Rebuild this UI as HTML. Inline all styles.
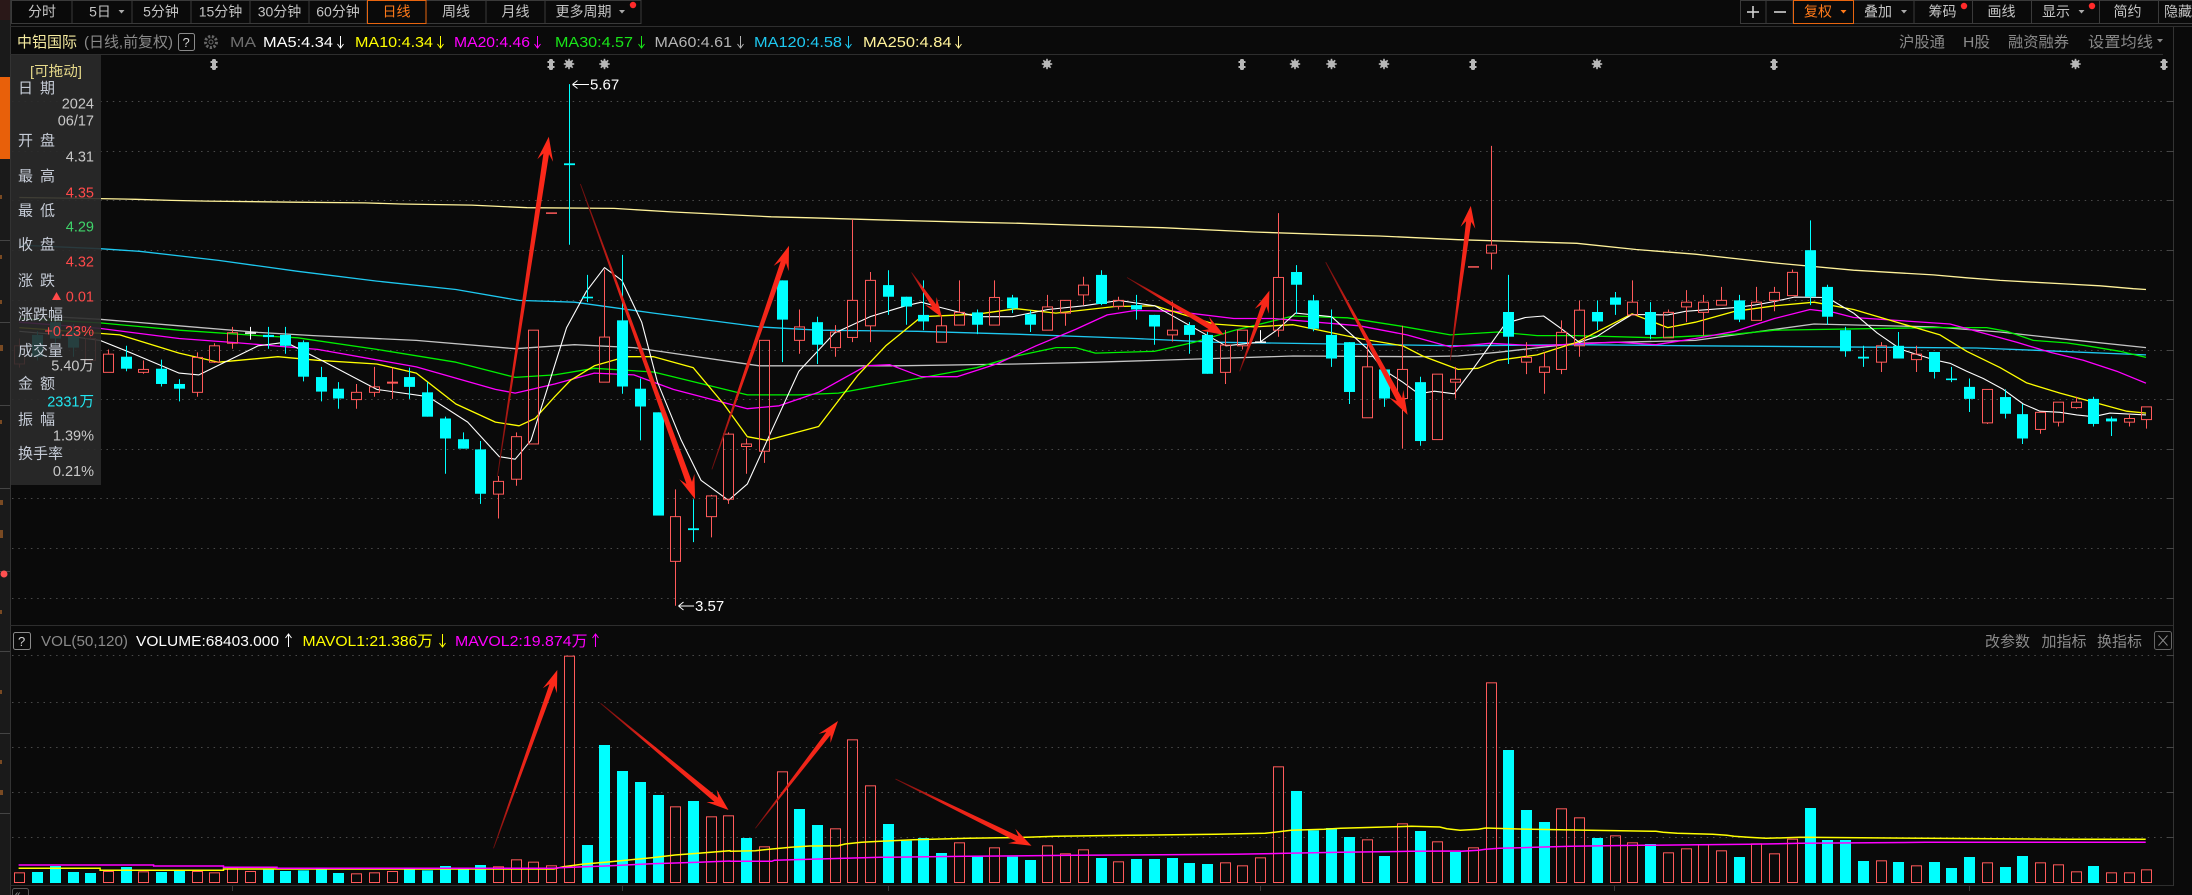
<!DOCTYPE html>
<html><head><meta charset="utf-8">
<style>
html,body{margin:0;padding:0;background:#0a0a0a;width:2192px;height:895px;overflow:hidden}
svg{display:block}
text{font-family:"Liberation Sans","Noto Sans CJK SC",sans-serif}
</style></head><body>
<svg id="s" width="2192" height="895" viewBox="0 0 2192 895" xmlns="http://www.w3.org/2000/svg">
<defs id="defs"></defs>
<rect x="0" y="0" width="2192" height="895" fill="#0a0a0a"/>
<!-- left strip -->
<rect x="0" y="0" width="10" height="895" fill="#1a1a1a"/>
<rect x="0" y="0" width="10" height="20" fill="#2a1818"/>
<rect x="0" y="77" width="10" height="82" fill="#e8600a"/>
<g stroke="#444" stroke-width="1">
<line x1="0" x2="10" y1="240.5" y2="240.5"/><line x1="0" x2="10" y1="322.5" y2="322.5"/>
<line x1="0" x2="10" y1="405.5" y2="405.5"/><line x1="0" x2="10" y1="488.5" y2="488.5"/>
<line x1="0" x2="10" y1="571.5" y2="571.5"/><line x1="0" x2="10" y1="651.5" y2="651.5"/>
<line x1="0" x2="10" y1="733.5" y2="733.5"/><line x1="0" x2="10" y1="813.5" y2="813.5"/>
</g>
<g fill="#7a4a22">
<rect x="0" y="195" width="2" height="4"/><rect x="0" y="255" width="2" height="4"/><rect x="0" y="300" width="2" height="4"/>
<rect x="0" y="345" width="3" height="6"/><rect x="0" y="420" width="2" height="4"/><rect x="0" y="500" width="3" height="5"/>
<rect x="0" y="530" width="3" height="8"/><rect x="0" y="610" width="2" height="4"/><rect x="0" y="690" width="2" height="4"/>
<rect x="0" y="760" width="2" height="4"/><rect x="0" y="790" width="3" height="5"/>
</g>
<circle cx="4" cy="574" r="3.5" fill="#ff5050"/>
<line x1="10.5" x2="10.5" y1="0" y2="895" stroke="#333"/>

<!-- toolbar left -->
<g stroke="#3a3a3a" fill="none">
<rect x="11.5" y="0.5" width="60.5" height="23"/>
<rect x="72" y="0.5" width="60" height="23"/>
<rect x="132" y="0.5" width="59" height="23"/>
<rect x="191" y="0.5" width="59" height="23"/>
<rect x="250" y="0.5" width="59" height="23"/>
<rect x="309" y="0.5" width="58" height="23"/>
<rect x="426" y="0.5" width="60" height="23"/>
<rect x="486" y="0.5" width="59" height="23"/>
<rect x="545" y="0.5" width="96" height="23"/>
</g>
<rect x="367.5" y="0.5" width="58.5" height="23" fill="none" stroke="#e8650f"/>
<g font-size="14" fill="#c4c4c4" text-anchor="middle">
<text x="42" y="16.5">分时</text>
<text x="100" y="16.5">5日</text>
<text x="161" y="16.5">5分钟</text>
<text x="220.5" y="16.5">15分钟</text>
<text x="279.5" y="16.5">30分钟</text>
<text x="338" y="16.5">60分钟</text>
<text x="396.5" y="16.5" fill="#ff7a1a">日线</text>
<text x="456" y="16.5">周线</text>
<text x="515.5" y="16.5">月线</text>
<text x="583.5" y="16.5">更多周期</text>
</g>
<polygon points="118.5,10 124.5,10 121.5,13.5" fill="#aaa"/>
<polygon points="619,10 625,10 622,13.5" fill="#aaa"/>
<circle cx="633" cy="5" r="3.2" fill="#ff2a2a"/>

<!-- toolbar right -->
<g stroke="#3a3a3a" fill="none">
<rect x="1740.5" y="0.5" width="25.5" height="23"/>
<rect x="1766" y="0.5" width="27" height="23"/>
<rect x="1853.5" y="0.5" width="60.5" height="23"/>
<rect x="1914" y="0.5" width="58.5" height="23"/>
<rect x="1972.5" y="0.5" width="59" height="23"/>
<rect x="2031.5" y="0.5" width="68" height="23"/>
<rect x="2099.5" y="0.5" width="59" height="23"/>
<rect x="2158.5" y="0.5" width="40" height="23"/>
</g>
<rect x="1793.5" y="0.5" width="60" height="23" fill="none" stroke="#e8650f"/>
<g stroke="#d0d0d0" stroke-width="1.6">
<line x1="1747" x2="1759" y1="12" y2="12"/><line x1="1753" x2="1753" y1="6" y2="18"/>
<line x1="1774" x2="1786" y1="12" y2="12"/>
</g>
<g font-size="14" fill="#c4c4c4">
<text x="1804" y="16.5" fill="#ff7a1a">复权</text>
<text x="1864" y="16.5">叠加</text>
<text x="1928.5" y="16.5">筹码</text>
<text x="1987.5" y="16.5">画线</text>
<text x="2042" y="16.5">显示</text>
<text x="2113.5" y="16.5">简约</text>
<text x="2164" y="16.5">隐藏</text>
</g>
<polygon points="1840.5,10 1846.5,10 1843.5,13.5" fill="#ff7a1a"/>
<polygon points="1901,10 1907,10 1904,13.5" fill="#aaa"/>
<polygon points="2078.5,10 2084.5,10 2081.5,13.5" fill="#aaa"/>
<circle cx="1964" cy="6" r="3.2" fill="#ff2a2a"/>
<circle cx="2092" cy="6" r="3.2" fill="#ff2a2a"/>

<!-- frame lines -->
<line x1="10" x2="2192" y1="26.5" y2="26.5" stroke="#2e2e2e"/>
<line x1="10" x2="2163" y1="54.5" y2="54.5" stroke="#2e2e2e"/>
<line x1="2173.5" x2="2173.5" y1="27" y2="886" stroke="#333"/>
<line x1="10" x2="2173" y1="625.5" y2="625.5" stroke="#2e2e2e"/>
<line x1="10" x2="2173" y1="885.5" y2="885.5" stroke="#2e2e2e"/>
<g stroke="#3a3a3a">
<line x1="232.5" x2="232.5" y1="886" y2="891"/><line x1="622.5" x2="622.5" y1="886" y2="891"/>
<line x1="888.5" x2="888.5" y1="886" y2="891"/><line x1="1260.5" x2="1260.5" y1="886" y2="891"/>
<line x1="1614.5" x2="1614.5" y1="886" y2="891"/><line x1="1969.5" x2="1969.5" y1="886" y2="891"/>
</g>
<rect x="12.5" y="888.5" width="16" height="10" rx="2" fill="none" stroke="#555"/>
<text x="15" y="897" font-size="10" fill="#999">«</text>

<g id="grid"></g>
<g id="ma"></g>
<g id="candles"></g>
<g id="vol"></g>
<g id="arrows"></g>
<g id="marks"></g>

<!-- price extremes -->
<path d="M572.5,84.5 H589 M572.5,84.5 l5,-4 M572.5,84.5 l5,4" stroke="#fff" stroke-width="1" fill="none"/>
<text x="590" y="89.5" font-size="15" fill="#fff">5.67</text>
<path d="M678.5,606 H694 M678.5,606 l5,-4 M678.5,606 l5,4" stroke="#fff" stroke-width="1" fill="none"/>
<text x="695" y="611" font-size="15" fill="#fff">3.57</text>

<!-- info panel -->
<rect x="11" y="55" width="90" height="430" fill="#2a2a2a" fill-opacity="0.9"/>
<g font-size="15" fill="#c5cbd6">
<text x="30" y="76" font-size="14" fill="#e6d98a" textLength="52" lengthAdjust="spacingAndGlyphs">[可拖动]</text>
<text x="18" y="93">日</text><text x="40" y="93">期</text>
<text x="18" y="145.3">开</text><text x="40" y="145.3">盘</text>
<text x="18" y="181">最</text><text x="40" y="181">高</text>
<text x="18" y="215.3">最</text><text x="40" y="215.3">低</text>
<text x="18" y="249.6">收</text><text x="40" y="249.6">盘</text>
<text x="18" y="285.3">涨</text><text x="40" y="285.3">跌</text>
<text x="18" y="319.6">涨跌幅</text>
<text x="18" y="355.3">成交量</text>
<text x="18" y="388.6">金</text><text x="40" y="388.6">额</text>
<text x="18" y="424.6">振</text><text x="40" y="424.6">幅</text>
<text x="18" y="458.6">换手率</text>
</g>
<g font-size="14.5" fill="#c8c8c8" text-anchor="end">
<text x="94" y="108.3">2024</text>
<text x="94" y="125.7">06/17</text>
<text x="94" y="161.7">4.31</text>
<text x="94" y="197.3" fill="#ff4a4a">4.35</text>
<text x="94" y="231.7" fill="#3fd46a">4.29</text>
<text x="94" y="266.7" fill="#ff4a4a">4.32</text>
<text x="94" y="301.7" fill="#ff4a4a">0.01</text>
<text x="94" y="336" fill="#ff4a4a">+0.23%</text>
<text x="94" y="370.3">5.40万</text>
<text x="94" y="406.3" fill="#22e6f0">2331万</text>
<text x="94" y="440.7">1.39%</text>
<text x="94" y="476">0.21%</text>
</g>
<polygon points="52,300 61,300 56.5,292" fill="#ff4a4a"/>

<!-- row 2 header -->
<g font-size="15">
<text x="17" y="47" fill="#f5eba0" textLength="60" lengthAdjust="spacingAndGlyphs">中铝国际</text>
<text x="84" y="47" fill="#8a8a8a" textLength="89" lengthAdjust="spacingAndGlyphs">(日线,前复权)</text>
<text x="230" y="47" fill="#6e6e6e" textLength="26" lengthAdjust="spacingAndGlyphs">MA</text>
<text x="263" y="47" fill="#ffffff" textLength="70" lengthAdjust="spacingAndGlyphs">MA5:4.34</text>
<text x="355" y="47" fill="#ffff00" textLength="78" lengthAdjust="spacingAndGlyphs">MA10:4.34</text>
<text x="454" y="47" fill="#ff00ff" textLength="76" lengthAdjust="spacingAndGlyphs">MA20:4.46</text>
<text x="555" y="47" fill="#19e619" textLength="78" lengthAdjust="spacingAndGlyphs">MA30:4.57</text>
<text x="654.5" y="47" fill="#b4b4b4" textLength="77.5" lengthAdjust="spacingAndGlyphs">MA60:4.61</text>
<text x="754" y="47" fill="#1ec8f0" textLength="88" lengthAdjust="spacingAndGlyphs">MA120:4.58</text>
<text x="863" y="47" fill="#fff29a" textLength="88.5" lengthAdjust="spacingAndGlyphs">MA250:4.84</text>
</g>
<rect x="178.5" y="33.5" width="16" height="17" rx="2" fill="none" stroke="#8a8a8a"/>
<text x="182.5" y="47" font-size="13" fill="#d0d0d0">?</text>
<circle cx="211" cy="42" r="5.5" fill="none" stroke="#666" stroke-width="3" stroke-dasharray="2.2 1.6"/>
<circle cx="211" cy="42" r="2" fill="#0a0a0a" stroke="#666" stroke-width="1"/>
<g fill="none" stroke-width="1">
<path d="M340.5,36 V48 M337.5,44 L340.5,48 L343.5,44" stroke="#ffffff"/>
<path d="M440.5,36 V48 M437.5,44 L440.5,48 L443.5,44" stroke="#ffff00"/>
<path d="M537.5,36 V48 M534.5,44 L537.5,48 L540.5,44" stroke="#ff00ff"/>
<path d="M641.5,36 V48 M638.5,44 L641.5,48 L644.5,44" stroke="#19e619"/>
<path d="M740.5,36 V48 M737.5,44 L740.5,48 L743.5,44" stroke="#b4b4b4"/>
<path d="M848.5,36 V48 M845.5,44 L848.5,48 L851.5,44" stroke="#1ec8f0"/>
<path d="M958.5,36 V48 M955.5,44 L958.5,48 L961.5,44" stroke="#fff29a"/>
</g>
<g font-size="15" fill="#8a8a8a">
<text x="1899" y="47" textLength="46" lengthAdjust="spacingAndGlyphs">沪股通</text>
<text x="1963" y="47" textLength="27" lengthAdjust="spacingAndGlyphs">H股</text>
<text x="2008" y="47" textLength="61" lengthAdjust="spacingAndGlyphs">融资融券</text>
<text x="2088" y="47" textLength="65" lengthAdjust="spacingAndGlyphs">设置均线</text>
</g>
<polygon points="2157,39 2163,39 2160,42.5" fill="#8a8a8a"/>

<!-- volume header -->
<rect x="13.5" y="632.5" width="17" height="17" rx="2" fill="none" stroke="#8a8a8a"/>
<text x="18" y="646" font-size="13" fill="#d0d0d0">?</text>
<g font-size="15">
<text x="41" y="646" fill="#8a8a8a" textLength="87" lengthAdjust="spacingAndGlyphs">VOL(50,120)</text>
<text x="136" y="646" fill="#ffffff" textLength="143" lengthAdjust="spacingAndGlyphs">VOLUME:68403.000</text>
<text x="302.5" y="646" fill="#ffff00" textLength="130.5" lengthAdjust="spacingAndGlyphs">MAVOL1:21.386万</text>
<text x="455" y="646" fill="#ff00ff" textLength="132.5" lengthAdjust="spacingAndGlyphs">MAVOL2:19.874万</text>
</g>
<g fill="none" stroke-width="1">
<path d="M288.5,634 V647 M285.5,638 L288.5,634 L291.5,638" stroke="#ffffff"/>
<path d="M442.5,634 V647 M439.5,643 L442.5,647 L445.5,643" stroke="#ffff00"/>
<path d="M595.5,634 V647 M592.5,638 L595.5,634 L598.5,638" stroke="#ff00ff"/>
</g>
<g font-size="15" fill="#8a8a8a">
<text x="1985" y="646.5" textLength="45" lengthAdjust="spacingAndGlyphs">改参数</text>
<text x="2041.5" y="646.5" textLength="45" lengthAdjust="spacingAndGlyphs">加指标</text>
<text x="2097" y="646.5" textLength="45" lengthAdjust="spacingAndGlyphs">换指标</text>
</g>
<rect x="2154.5" y="631.5" width="17" height="18" rx="2" fill="none" stroke="#666"/>
<path d="M2158.5,635.5 L2167.5,645.5 M2167.5,635.5 L2158.5,645.5" stroke="#888" stroke-width="1"/>
</svg>
<script>
(function(){
const NS='http://www.w3.org/2000/svg';
function mk(tag,a,p){const e=document.createElementNS(NS,tag);for(const k in a)e.setAttribute(k,a[k]);p.appendChild(e);return e;}
const Y=z=>55+z/2.751;
const CX=i=>Math.round(19.4+17.725*i);
const RED='#ff5a5a',CY='#00ffff';

// grid
const gG=document.getElementById('grid');
[101.5,151.5,200.5,250.5,300.5,350.5,399.5,449.5,498.5,548.5,598.5,655.5,702.5,747.5,792.5,837.5].forEach(y=>{
 mk('line',{x1:12,x2:2168,y1:y,y2:y,stroke:'#4a4a4a','stroke-width':1,'stroke-dasharray':'1.5 4.8'},gG);
 mk('line',{x1:2168,x2:2174,y1:y,y2:y,stroke:'#444','stroke-width':1},gG);
});

// MA lines
const SEG={z4:[100,2.529,-1e9,720],z5:[700,2.529,720,1320],z6:[1300,2.529,1320,1920],z7:[1900,3,1920,1e9]};
function conv(obj,S,fy){let pts=[];for(const k in obj){const [x0,s,a,b]=S[k];obj[k].forEach(([zx,zy])=>{const x=x0+zx/s;if(x>a&&x<=b)pts.push([x,fy(zy)]);});}
 pts=pts.map((p,i)=>[p[0],p[1],i]);pts.sort((p,q)=>p[0]-q[0]||p[2]-q[2]);return pts.map(p=>p[0].toFixed(1)+','+p[1].toFixed(1)).join(' ');}
const MA=[
['#fff29a',1.3,{z4:[[-204,392],[0,395],[90,397],[180,400],[270,402],[490,405],[670,407],[760,410],[940,413],[1080,420],[1300,422],[1450,432],[1568,438]],
 z5:[[180,445],[280,448],[500,455],[680,460],[810,463],[950,468],[1170,475],[1400,487],[1568,491]],
 z6:[[100,495],[200,498],[400,508],[700,518],[850,535],[1000,548],[1200,572],[1400,592],[1568,604]],
 z7:[[100,605],[200,613],[300,620],[400,625],[500,630],[600,635],[700,643],[738,645]]}],
['#1ec8f0',1.3,{z4:[[-204,523],[0,533],[100,540],[300,565],[500,595],[700,622],[900,645],[1060,675],[1200,680],[1400,710],[1568,735]],
 z5:[[150,748],[300,757],[550,760],[800,768],[1100,780],[1300,790],[1568,797]],
 z6:[[400,800],[700,797],[1000,800],[1568,800]],
 z7:[[230,806],[400,812],[550,818],[738,825]]}],
['#c4c4c4',1.3,{z4:[[-204,715],[0,727],[200,745],[400,763],[540,772],[800,785],[1050,808],[1200,797],[1350,805],[1568,845]],
 z5:[[150,855],[500,855],[800,850],[1000,845],[1300,835],[1500,828],[1568,827]],
 z6:[[300,830],[400,828],[500,818],[700,793],[1000,785],[1200,755],[1300,740],[1568,742]],
 z7:[[100,748],[300,762],[500,782],[738,805]]}],
['#00f000',1.3,{z4:[[-204,725],[0,737],[200,757],[400,772],[500,778],[700,810],[900,845],[1050,887],[1150,880],[1250,862],[1400,872],[1568,925]],
 z5:[[120,935],[250,935],[350,930],[550,890],[700,860],[800,828],[900,805],[950,805],[1000,820],[1150,815],[1250,790],[1350,758],[1500,718],[1568,718]],
 z6:[[120,723],[250,745],[380,770],[500,762],[600,772],[700,772],[900,778],[1100,768],[1200,757],[1568,752]],
 z7:[[100,750],[260,750],[320,760],[400,785],[500,792],[560,800],[660,815],[738,832]]}],
['#ff00ff',1.3,{z4:[[-204,735],[0,752],[200,780],[350,792],[550,810],[800,858],[1000,920],[1050,930],[1150,905],[1250,875],[1350,880],[1450,920],[1568,962]],
 z5:[[120,973],[200,965],[300,928],[420,855],[480,852],[560,885],[650,885],[750,850],[850,800],[950,755],[1030,715],[1100,703],[1200,705],[1350,725],[1450,725],[1568,720]],
 z6:[[150,745],[270,770],[380,803],[480,793],[600,800],[800,790],[900,797],[1000,780],[1100,760],[1200,725],[1290,700],[1350,708],[1400,722],[1568,722]],
 z7:[[50,724],[150,740],[250,765],[350,790],[450,818],[550,840],[650,870],[738,903]]}],
['#ffff00',1.3,{z4:[[-204,750],[0,766],[50,770],[200,820],[300,845],[450,830],[550,840],[700,850],[800,875],[900,960],[1000,1010],[1060,1020],[1100,1000],[1150,940],[1190,895],[1250,855],[1330,830],[1400,830],[1500,860],[1568,930]],
 z5:[[60,960],[120,1050],[170,1060],[300,1022],[400,880],[470,800],[560,720],[700,713],[800,698],[900,710],[1050,692],[1150,690],[1300,740],[1400,748],[1500,742],[1568,745]],
 z6:[[150,780],[260,800],[310,828],[400,865],[450,862],[500,840],[600,825],[700,790],[840,712],[930,750],[1000,735],[1100,705],[1200,690],[1300,680],[1400,700],[1568,740]],
 z7:[[60,745],[120,770],[200,815],[300,860],[380,902],[480,930],[580,955],[680,980],[738,985]]}],
['#ffffff',1.1,{z4:[[-204,760],[-100,770],[0,785],[80,820],[200,875],[250,880],[400,800],[470,790],[560,840],[700,920],[830,940],[930,1010],[1010,1105],[1050,1112],[1090,1060],[1180,750],[1230,650],[1276,585],[1320,620],[1370,735],[1410,900],[1470,1060],[1520,1170],[1568,1215]],
 z5:[[72,1225],[120,1180],[170,1060],[250,870],[340,765],[430,720],[520,690],[560,680],[610,695],[700,720],[790,720],[880,700],[970,690],[1060,675],[1150,690],[1240,745],[1330,800],[1416,790],[1461,755],[1506,710],[1568,705]],
 z6:[[80,720],[170,808],[210,865],[260,900],[300,932],[340,925],[390,932],[440,860],[520,738],[570,722],[616,718],[660,752],[706,790],[750,775],[800,740],[840,714],[930,715],[975,705],[1100,695],[1150,688],[1200,678],[1250,666],[1333,667],[1400,710],[1460,765],[1520,810],[1568,825]],
 z7:[[50,825],[100,838],[150,848],[200,870],[250,890],[310,920],[370,960],[420,980],[480,983],[530,990],[580,995],[630,985],[738,990]]}]
];
const gM=document.getElementById('ma');
MA.forEach(([c,w,d])=>mk('polyline',{points:conv(d,SEG,Y),fill:'none',stroke:c,'stroke-width':w,'stroke-linejoin':'round'},gM));

// candles
const C=[
['r',800,850,780,860],['c',770,830,760,840],['c',735,780,725,800],['c',760,805,740,830],['r',780,840,770,850],
['r',823,873,810,873],['c',830,863,800,870],['r',865,873,840,877],['c',863,905,838,912],['c',905,918,892,953],
['r',832,928,818,940],['r',800,845,793,847],['r',764,793,748,808],['w',765,765,748,783],['c',770,776,748,808],
['c',770,800,748,822],['c',790,885,785,898],['c',886,926,858,953],['c',918,945,900,973],['r',928,948,905,973],
['r',913,928,858,940],['r',900,902,860,946],['c',886,913,860,946],['c',928,995,900,995],['c',1000,1055,995,1152],
['c',1057,1083,1038,1083],['c',1085,1207,1062,1235],['r',1173,1208,1158,1275],['r',1050,1167,1038,1185],['r',757,1070,757,1070],
['rd',435,435,435,435],['c',298,303,80,522],['c',665,667,605,680],['r',776,900,590,900],['c',730,912,550,932],
['c',918,967,890,1060],['c',983,1267,983,1267],['r',1270,1393,1195,1515],['c',1302,1307,1222,1340],['r',1213,1270,1210,1327],
['r',1043,1222,1038,1235],['r',1070,1077,1055,1152],['r',785,1090,785,1122],['c',620,728,620,845],['r',748,785,700,822],
['c',735,797,720,850],['r',762,805,743,830],['r',675,777,452,790],['r',620,745,597,790],['c',633,665,592,715],
['c',665,692,665,742],['c',715,733,620,757],['r',745,790,718,790],['r',708,743,620,743],['c',708,742,700,768],
['r',667,743,620,743],['c',667,697,660,710],['c',713,742,703,762],['r',693,757,660,757],['r',675,710,675,745],
['r',633,660,610,688],['c',605,685,592,688],['r',675,692,665,700],['c',688,700,660,728],['c',715,747,715,797],
['r',757,770,678,788],['c',743,770,735,822],['c',770,877,757,877],['r',798,873,757,905],['r',757,800,757,810],
['w',790,790,757,790],['r',612,757,435,775],['c',597,632,578,713],['c',675,753,660,760],['c',770,835,700,858],
['c',790,927,790,960],['r',858,998,795,998],['c',865,945,865,968],['r',865,945,745,1083],['c',900,1062,885,1075],
['r',878,1058,878,1058],['r',892,900,858,945],['rd',583,583,583,583],['r',523,545,250,590],['c',707,775,605,850],
['r',832,845,790,878],['r',858,873,818,932],['r',763,865,730,878],['r',702,800,675,830],['c',707,733,675,757],
['c',667,687,652,715],['r',680,715,620,715],['c',707,770,680,782],['r',708,778,700,778],['r',680,693,647,735],
['r',680,708,660,772],['r',675,688,638,688],['c',675,728,660,735],['r',680,730,638,730],['r',653,675,638,705],
['r',598,662,590,662],['c',537,665,455,688],['c',638,720,632,742],['c',757,815,748,830],['c',830,835,800,858],
['r',800,845,790,872],['c',800,835,762,835],['r',823,838,800,872],['c',817,872,817,890],['c',890,893,858,900],
['c',913,946,890,982],['r',920,1012,920,1015],['c',941,987,920,1000],['c',988,1055,960,1070],['r',983,1030,983,1042],
['r',955,1010,955,1022],['r',955,970,940,973],['c',946,1015,940,1022],['c',1000,1008,995,1048],['r',1000,1010,988,1022],
['r',968,1003,968,1028]
];
const gC=document.getElementById('candles');
C.forEach((c,i)=>{
 const [t,a,b,wt,wb]=c,x=CX(i),yt=Y(a),yb=Y(b),ht=Y(wt),hb=Y(wb);
 if(t==='c'){
  if(hb-ht>0.5) mk('line',{x1:x+.5,x2:x+.5,y1:ht,y2:hb,stroke:CY,'stroke-width':1},gC);
  mk('rect',{x:x-5,y:yt,width:11,height:Math.max(1.6,yb-yt),fill:CY},gC);
 } else if(t==='r'){
  if(yt-ht>0.5) mk('line',{x1:x+.5,x2:x+.5,y1:ht,y2:yt,stroke:RED,'stroke-width':1},gC);
  if(hb-yb>0.5) mk('line',{x1:x+.5,x2:x+.5,y1:yb,y2:hb,stroke:RED,'stroke-width':1},gC);
  mk('rect',{x:x-4.5,y:yt,width:10,height:Math.max(1,yb-yt),fill:'none',stroke:RED,'stroke-width':1},gC);
 } else if(t==='w'){
  mk('line',{x1:x+.5,x2:x+.5,y1:ht,y2:hb,stroke:'#fff','stroke-width':1},gC);
  mk('line',{x1:x-5,x2:x+6,y1:yt,y2:yt,stroke:'#fff','stroke-width':1.5},gC);
 } else {
  mk('line',{x1:x-5,x2:x+6,y1:yt,y2:yt,stroke:RED,'stroke-width':1.5},gC);
 }
});

// volume
const V='r772 c771 c753 c771 c774 r768 c756 r769 c771 c768 r768 r772 r760 r768 c762 c768 c766 c761 c774 r775 r772 r768 c761 c766 c753 c761 c750 r754 r733 r740 r751 r122 c690 c390 c468 c501 c540 r574 c558 r604 r601 c669 r694 r469 c582 c630 r640 r373 r511 c627 c677 c669 c714 r682 c725 r697 c725 c735 r691 r715 r703 c729 r739 c732 c732 c729 c744 c747 r742 r751 r727 r454 c528 c646 c639 c666 r673 c723 r625 c648 r679 c711 r697 r202 c405 c585 c621 r580 r607 c669 r661 r682 c687 r712 r700 r688 r706 c726 r685 r715 r671 c579 c675 c675 c738 r736 c741 r751 c741 c759 c726 r742 c756 c723 r742 r748 r769 c753 r772 r772 r763'.split(' ');
const gV=document.getElementById('vol');
const BOT=883;
V.forEach((v,i)=>{const col=v[0],top=615+parseFloat(v.slice(1))/3,x=CX(i);
 if(col==='c') mk('rect',{x:x-5,y:top,width:11,height:BOT-top,fill:CY},gV);
 else mk('rect',{x:x-4.5,y:top+.5,width:10,height:BOT-top-1,fill:'none',stroke:RED,'stroke-width':1},gV);
});
const SV={z8:[0,2.148,-1e9,730],z9:[720,2.119,730,1460],z10:[1450,2.113,1460,1e9]};
const YV=z=>615+z/3;
const MV=[
['#ffff00',{z8:[[40,760],[215,760],[215,766],[480,766],[480,762],[1190,762],[1210,755],[1250,748],[1300,742],[1350,735],[1400,728],[1450,720],[1500,715],[1568,707]],
 z9:[[22,709],[75,707],[110,702],[150,697],[190,693],[250,692],[265,687],[300,682],[340,679],[410,674],[525,670],[650,667],[712,664],[862,661],[1050,658],[1155,655],[1175,652],[1210,646],[1280,643],[1315,640],[1390,637],[1465,634],[1525,636],[1540,641],[1568,646]],
 z10:[[22,646],[60,643],[75,639],[145,642],[295,646],[435,649],[450,652],[480,655],[555,658],[585,661],[600,664],[630,667],[668,670],[740,667],[1005,670],[1305,673],[1470,673]]}],
['#ff00ff',{z8:[[40,750],[330,750],[330,753],[480,753],[480,757],[595,757],[595,760],[1190,760],[1200,758],[1300,753],[1400,746],[1500,742],[1568,738]],
 z9:[[22,739],[110,739],[115,736],[190,733],[265,730],[340,727],[525,724],[750,721],[1088,718],[1200,715],[1315,712],[1465,709],[1568,708]],
 z10:[[22,709],[60,706],[75,703],[105,700],[180,697],[255,694],[405,691],[630,688],[740,685],[1005,682],[1470,682]]}]
];
MV.forEach(([c,d])=>mk('polyline',{points:conv(d,SV,YV),fill:'none',stroke:c,'stroke-width':1.5},gV));

// arrows
const defs=document.getElementById('defs'),gA=document.getElementById('arrows');
let aid=0;
function arrow(x1,y1,x2,y2,hl,hw,nw){
 const dx=x2-x1,dy=y2-y1,L=Math.hypot(dx,dy),ux=dx/L,uy=dy/L,px=-uy,py=ux,tw=0.4;
 const nx=x2-ux*hl*0.72,ny=y2-uy*hl*0.72,bx=x2-ux*hl,by=y2-uy*hl;
 const P=[[x1+px*tw,y1+py*tw],[nx+px*nw,ny+py*nw],[bx+px*hw,by+py*hw],[x2,y2],[bx-px*hw,by-py*hw],[nx-px*nw,ny-py*nw],[x1-px*tw,y1-py*tw]];
 const id='ag'+(aid++);
 const g=mk('linearGradient',{id:id,gradientUnits:'userSpaceOnUse',x1:x1,y1:y1,x2:x2,y2:y2},defs);
 mk('stop',{offset:'0','stop-color':'#6a0e0e'},g);
 mk('stop',{offset:'0.35','stop-color':'#e52218'},g);
 mk('stop',{offset:'1','stop-color':'#ff2a1a'},g);
 mk('polygon',{points:P.map(p=>p[0].toFixed(1)+','+p[1].toFixed(1)).join(' '),fill:'url(#'+id+')'},gA);
}
arrow(497.4,476.7,548.8,136.8,24,8,2.8);
arrow(580.4,184,695.1,499.2,24,8,3);
arrow(711.9,469.4,789,245.8,24,8,2.8);
arrow(911.5,272.4,942,317.5,20,7,2.5);
arrow(1127,277.5,1223.9,334.9,22,8,2.8);
arrow(1239.7,371.3,1269.4,290.6,22,7.5,2.6);
arrow(1325.7,262.2,1407.6,414.9,24,8,3);
arrow(1450.3,360.3,1470.8,205.9,22,7.5,2.6);
arrow(493.5,848.3,557.3,670,22,7.5,2.6);
arrow(600.6,703.3,728.5,810,22,8,2.8);
arrow(755.4,828.3,838,721,22,7.5,2.6);
arrow(895.5,779,1031.5,845.7,22,8,2.8);

// markers
const gK=document.getElementById('marks');
function dagger(x){mk('rect',{x:x-2,y:59,width:4,height:11,rx:1.5,fill:'#b8b8b8'},gK);
 mk('rect',{x:x-3.5,y:61,width:7,height:2,fill:'#b8b8b8'},gK);mk('rect',{x:x-3.5,y:66,width:7,height:2,fill:'#b8b8b8'},gK);}
function star(x){mk('circle',{cx:x,cy:64,r:3.6,fill:'#b8b8b8'},gK);
 for(let k=0;k<8;k++){const a=k*Math.PI/4;mk('line',{x1:x,y1:64,x2:x+Math.cos(a)*5.2,y2:64+Math.sin(a)*5.2,stroke:'#b8b8b8','stroke-width':1.6},gK);}}
[214,551,1242,1473,1774,2164].forEach(dagger);
[569,604.5,1047,1295,1331.5,1384,1597,2075.5].forEach(star);
})();
</script>
</body></html>
